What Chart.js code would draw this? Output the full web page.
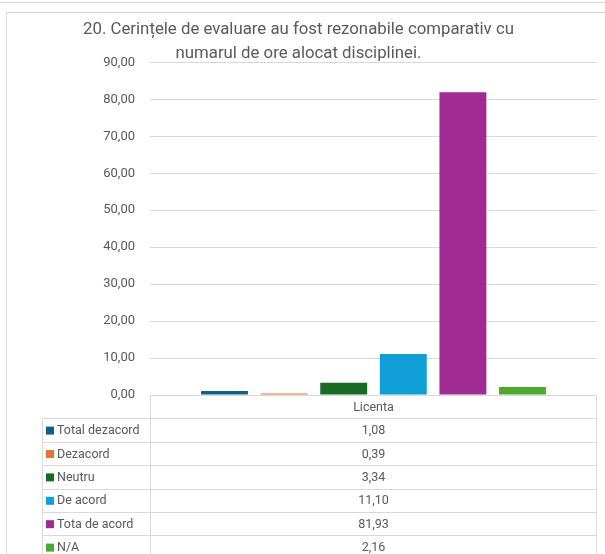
<!DOCTYPE html>
<html>
<head>
<meta charset="utf-8">
<script src="https://cdn.jsdelivr.net/npm/chart.js@4/dist/chart.umd.min.js"></script>
<style>
  html, body { margin: 0; padding: 0; background: #fff; overflow: hidden; width: 605px; height: 554px; }
  .topline { position: absolute; left: 0; top: 2px; width: 605px; height: 0; border-top: 1px solid #d9d9d9; }
  .frame { position: absolute; left: 6px; top: 12px; width: 640px; height: 640px; border: 1px solid #d9d9d9; }
  #wrap { position: absolute; left: 0; top: 0; width: 605px; height: 580px; }
</style>
</head>
<body>
<div class="topline"></div>
<div class="frame"></div>
<div id="wrap"><canvas id="chart"></canvas></div>
<script>
// ---------- DATA ----------
const category = ['Licenta'];
const seriesNames = ['Total dezacord', 'Dezacord', 'Neutru', 'De acord', 'Tota de acord', 'N/A'];
const seriesValues = [1.08, 0.39, 3.34, 11.10, 81.93, 2.16];
const seriesColors = ['#156082', '#E97132', '#196B24', '#0F9ED5', '#A02B93', '#4EA72E'];
const titleLines = ['20. Cerințele de evaluare au fost rezonabile comparativ cu', 'numarul de ore alocat disciplinei.'];

const FONT = 'Roboto, "Liberation Sans", sans-serif';
const fmt = v => v.toFixed(2).replace('.', ',');

// data table drawn under the plot, aligned with the chart area
const dataTable = {
    id: 'dataTable',
    afterDraw(chart) {
        const { ctx, chartArea: { left, right, bottom } } = chart;
        const rowH = 23.4;
        const tableLeft = 42;
        const rows = seriesNames.length;
        const end = bottom + rowH * (rows + 1);

        ctx.save();
        ctx.strokeStyle = '#d9d9d9';
        ctx.lineWidth = 1;
        ctx.beginPath();
        ctx.moveTo(left + 0.5, bottom); ctx.lineTo(left + 0.5, end);
        ctx.moveTo(right - 0.5, bottom); ctx.lineTo(right - 0.5, end);
        ctx.moveTo(tableLeft + 0.5, bottom + rowH); ctx.lineTo(tableLeft + 0.5, end);
        for (let k = 1; k <= rows; k++) {
            const y = Math.round(bottom + rowH * k) + 0.5;
            ctx.moveTo(tableLeft, y); ctx.lineTo(right, y);
        }
        ctx.stroke();

        ctx.fillStyle = '#595959';
        ctx.font = '12.5px ' + FONT;
        ctx.textBaseline = 'middle';
        ctx.textAlign = 'center';
        ctx.fillText(category[0], (left + right) / 2, bottom + rowH / 2 + 1);

        seriesNames.forEach((name, i) => {
            const cy = bottom + rowH * (i + 1.5) + 1;
            ctx.fillStyle = seriesColors[i];
            ctx.fillRect(46, cy - 4.5, 8, 8);
            ctx.fillStyle = '#595959';
            ctx.textAlign = 'left';
            ctx.fillText(name, 57, cy);
            ctx.textAlign = 'center';
            ctx.fillText(fmt(seriesValues[i]), (left + right) / 2, cy);
        });
        ctx.restore();
    }
};

new Chart(document.getElementById('chart'), {
    type: 'bar',
    data: {
        labels: category,
        datasets: seriesNames.map((name, i) => ({
            label: name,
            data: [seriesValues[i]],
            backgroundColor: seriesColors[i],
            categoryPercentage: 0.8,
            barPercentage: 0.787
        }))
    },
    options: {
        responsive: true,
        maintainAspectRatio: false,
        animation: false,
        layout: { padding: { left: 0, right: 8, top: 0, bottom: 185 } },
        plugins: {
            legend: { display: false },
            tooltip: { enabled: false },
            title: {
                display: true,
                text: titleLines,
                color: '#595959',
                font: { family: FONT, size: 16.8, weight: 'normal', lineHeight: 1.41 },
                padding: { top: 18, bottom: -3 }
            }
        },
        scales: {
            x: { display: false },
            y: {
                min: 0,
                max: 90,
                ticks: {
                    stepSize: 10,
                    color: '#595959',
                    font: { family: FONT, size: 13 },
                    padding: 15,
                    callback: v => fmt(v)
                },
                grid: { color: '#d9d9d9', drawTicks: false },
                border: { display: false },
                afterFit(scale) { scale.width = 150; }
            }
        }
    },
    plugins: [dataTable]
});
</script>
</body>
</html>
